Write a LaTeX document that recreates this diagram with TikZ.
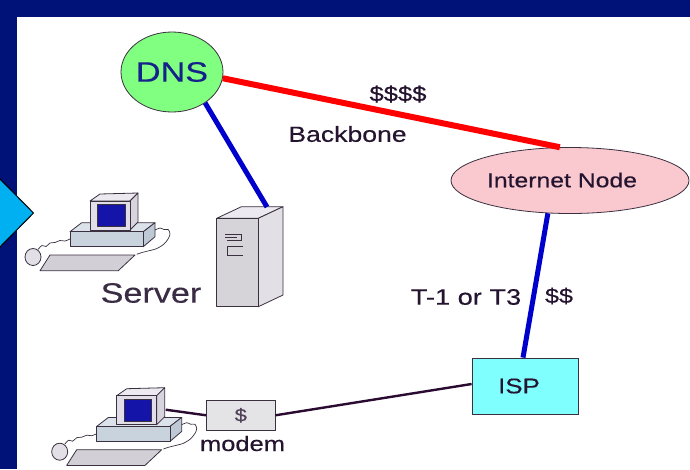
\documentclass[tikz,border=0pt]{standalone}
\usepackage{fontspec}
\setmainfont[FakeStretch=1.22,FakeBold=0.35]{Liberation Sans}
\usetikzlibrary{shapes.geometric}

\definecolor{navy}{HTML}{001277}
\definecolor{arrowblue}{HTML}{00B0F0}
\definecolor{dnsgreen}{HTML}{80FF80}
\definecolor{nodepink}{HTML}{F9C9CF}
\definecolor{ispcyan}{HTML}{80FFFF}
\definecolor{linkblue}{HTML}{0000CC}
\definecolor{inkplum}{HTML}{24142F}
\definecolor{dnsink}{HTML}{14228A}
\definecolor{outline}{HTML}{3A3040}
\definecolor{caseFront}{HTML}{E2DEE8}
\definecolor{caseTop}{HTML}{ECE9F0}
\definecolor{caseSide}{HTML}{D8D4DE}
\definecolor{screen}{HTML}{1414A8}
\definecolor{baseFront}{HTML}{C9D3DE}
\definecolor{baseTop}{HTML}{DCE2EA}
\definecolor{baseSide}{HTML}{BFC9D5}
\definecolor{keys}{HTML}{D2D0D6}
\definecolor{mouse}{HTML}{E2E0E6}
\definecolor{towerFront}{HTML}{D6D3D9}
\definecolor{towerSide}{HTML}{E2DFE5}
\definecolor{towerTop}{HTML}{ECEAF0}
\definecolor{modemgray}{HTML}{E4E3E6}
\definecolor{wire}{HTML}{2A0A30}

\tikzset{
  pcline/.style={draw=outline, line width=0.8pt, line join=round},
  cable/.style={draw=outline, line width=0.7pt},
  label/.style={text=inkplum, inner sep=0pt},
  computer/.pic={
    % desktop base
    \draw[pcline, fill=baseTop] (-20,30.7) -- (-8.3,21.7) -- (65,21.7) -- (53.3,30.7) -- cycle;
    \draw[pcline, fill=baseSide] (53.3,30.7) -- (65,21.7) -- (65,35.7) -- (53.3,45.7) -- cycle;
    \draw[pcline, fill=baseFront] (-20,30.7) rectangle (53.3,45.7);
    % monitor
    \draw[pcline, fill=caseTop] (0,0) -- (10,-7) -- (48,-8) -- (40,0) -- cycle;
    \draw[pcline, fill=caseSide] (40,0) -- (48,-8) -- (48,21) -- (40,29) -- cycle;
    \draw[pcline, fill=caseFront] (0,0) rectangle (40,29);
    \draw[pcline, fill=screen] (7.3,3.3) rectangle (35,25.3);
    % keyboard
    \draw[pcline, fill=keys] (-50,69.7) -- (-40,54) -- (45,54) -- (28.3,69.7) -- cycle;
    % mouse and its cable
    \draw[pcline, fill=mouse] (-57,56) ellipse (8 and 8.5);
    \draw[cable] plot[smooth] coordinates {(-52,48.5) (-48,44.5) (-44,45.5) (-40,42) (-35,41.5) (-30,39.5) (-25,40) (-20,38)};
    % keyboard cable
    \draw[cable] plot[smooth] coordinates {(65,29) (70,27) (74,28.5) (78.3,28.6) (80,33) (78.3,37.6) (74,43) (66.7,47.6) (58,50) (52,51.5) (46.7,53.3)};
    \coordinate (-port) at (49,14);
  }
}

\begin{document}
\begin{tikzpicture}[x=1pt, y=-1pt]
\useasboundingbox (0,0) rectangle (690,469);
\fill[white] (0,0) rectangle (690,469);

% slide frame
\fill[navy] (0,0) rectangle (690,17);
\fill[navy] (0,0) rectangle (17,469);
\draw[fill=arrowblue, draw=black, line width=1pt, line join=miter]
  (-2,177) -- (33.5,213) -- (-2,249) -- cycle;

% workstations
\pic (pc1) at (90,201) {computer};
\pic (pc2) at (116.7,395.7) {computer};

% server tower
\draw[pcline, fill=towerTop] (216.7,218.3) -- (241.4,206.7) -- (283,206.7) -- (258.3,218.3) -- cycle;
\draw[pcline, fill=towerSide] (258.3,218.3) -- (283,206.7) -- (283,295) -- (258.3,306.7) -- cycle;
\draw[pcline, fill=towerFront] (216.7,218.3) rectangle (258.3,306.7);
\draw[outline, line width=0.8pt]
  (225,234.3) -- (241.7,234.3) -- (241.7,240.7) -- (226.7,240.7)
  (225,237.7) -- (236.7,237.7)
  (243.3,246) -- (227.3,246) -- (227.3,255) -- (243.3,255);
\coordinate (srvtop) at (267,207);

% network nodes
\node[ellipse, draw=outline, fill=dnsgreen, line width=0.8pt, minimum width=100pt, minimum height=80pt, inner sep=0pt,
      text=dnsink, font=\fontsize{28}{28}\selectfont] (dns) at (172,72) {DNS};
\node[ellipse, draw=outline, fill=nodepink, line width=0.8pt, minimum width=238pt, minimum height=66pt, inner sep=0pt] (inet) at (570,180.5) {};
\node[label, font=\fontsize{20.3}{20}\selectfont] (inetlabel) at (562,180) {Internet Node};
\node[rectangle, draw=outline, fill=ispcyan, line width=0.8pt, minimum width=106pt, minimum height=56pt, inner sep=0pt] (isp) at (525,386) {};
\node[label, font=\fontsize{21.2}{21}\selectfont] (isplabel) at (519,386) {ISP};
\node[rectangle, draw=outline, fill=modemgray, line width=0.8pt, minimum width=68.3pt, minimum height=29.3pt, inner sep=0pt,
      text=inkplum!80, font=\fontsize{18}{18}\selectfont] (modem) at (240.8,415.3) {\$};

% links
\draw[red, line width=6pt] (dns.-7) -- (inet.107);
\draw[linkblue, line width=5pt] (dns.-43) -- (srvtop);
\draw[linkblue, line width=5pt] (inet.-124) -- ([xshift=-2pt]isp.north);
\draw[wire, line width=2.4pt] (pc2-port) -- (modem.west);
\draw[wire, line width=2.4pt] (modem.east) -- ([yshift=2pt]isp.west);

% captions
\node[label, font=\fontsize{21}{21}\selectfont] (cost4) at (398,94) {\$\$\$\$};
\node[label, font=\fontsize{21.8}{22}\selectfont] (backbone) at (347.5,134) {Backbone};
\node[label, font=\fontsize{22.3}{22}\selectfont] (t1) at (466,297) {T-1 or T3};
\node[label, font=\fontsize{20.6}{21}\selectfont] (cost2) at (559,296) {\$\$};
\node[label, text=inkplum!90!white, font=\fontsize{28}{28}\selectfont] (server) at (151,293) {Server};
\node[label, anchor=base, font=\fontsize{20.9}{21}\selectfont] (modemlabel) at (242.5,451) {modem};
\end{tikzpicture}
\end{document}
